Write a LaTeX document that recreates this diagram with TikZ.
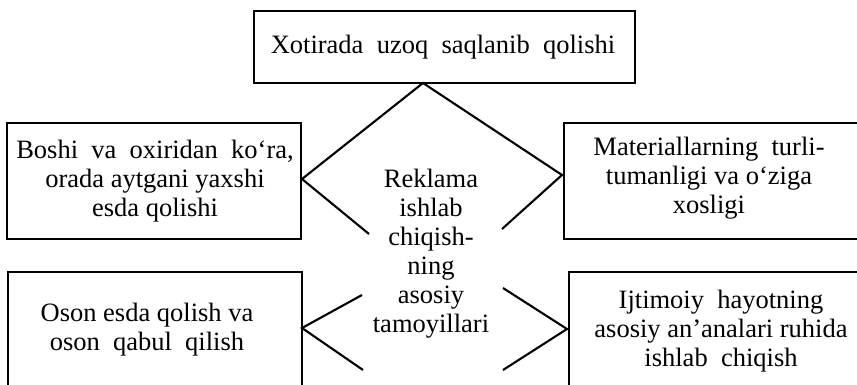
\documentclass[tikz,border=0pt]{standalone}
\usepackage{fontspec}
\setmainfont{Liberation Serif}
\begin{document}
\begin{tikzpicture}[x=1pt,y=-1pt,
  box/.style={draw, line width=2.1pt, inner sep=0pt},
  txt/.style={align=center, inner sep=0pt, font=\fontsize{26.5}{29}\selectfont},
  conn/.style={line width=2.1pt, line join=miter}]
\useasboundingbox (0,0) rectangle (857,385);
\clip (0,0) rectangle (857,385);
% boxes
\node[box, minimum width=381pt, minimum height=72pt] (top) at (444.5,47) {};
\node[box, minimum width=294pt, minimum height=116pt] (lu) at (154,181) {};
\node[box, minimum width=294pt, minimum height=148pt] (ll) at (155,346) {};
\node[box, minimum width=336pt, minimum height=116pt] (ru) at (732,181) {};
\node[box, minimum width=331pt, minimum height=148pt] (rl) at (734.5,346) {};
% texts
\node[txt] (topt) at (443,47) {Xotirada\ \ uzoq\ \ saqlanib\ \ qolishi};
\node[txt] (lut) at (155,181) {Boshi\ \ va\ \ oxiridan\ \ ko‘ra,\\orada aytgani yaxshi\\esda qolishi};
\node[txt] (llt) at (147,329.5) {Oson esda qolish va\\oson\ \ qabul\ \ qilish};
\node[txt] (rut) at (709,178) {Materiallarning\ \ turli-\\tumanligi va o‘ziga\\xosligi};
\node[txt] (rlt) at (721,331) {Ijtimoiy\ \ hayotning\\asosiy an’analari ruhida\\ishlab\ \ chiqish};
\node[txt] (ct) at (431,253.5) {Reklama\\ishlab\\chiqish-\\ning\\asosiy\\tamoyillari};
% connector points
\coordinate (p1) at (369,234);
\coordinate (p2) at (302,179);
\coordinate (p3) at (423,83);
\coordinate (p4) at (562,175);
\coordinate (p5) at (502,229);
\coordinate (q1) at (362,295);
\coordinate (q2) at (302,328);
\coordinate (q3) at (363,370);
\coordinate (r1) at (503,288);
\coordinate (r2) at (567,329);
\coordinate (r3) at (503,370);
\draw[conn] (p1) -- (p2) -- (p3) -- (p4) -- (p5);
\draw[conn] (q1) -- (q2) -- (q3);
\draw[conn] (r1) -- (r2) -- (r3);
\end{tikzpicture}
\end{document}
